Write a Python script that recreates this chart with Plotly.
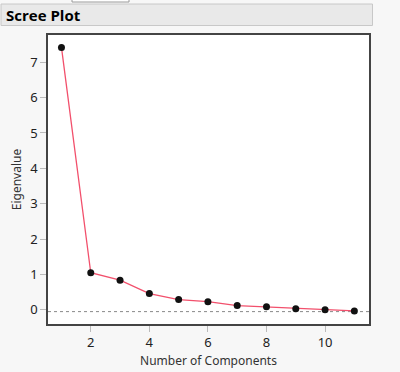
import plotly.graph_objects as go

components = [1, 2, 3, 4, 5, 6, 7, 8, 9, 10, 11]
eigenvalues = [7.42, 1.05, 0.84, 0.46, 0.29, 0.23, 0.12, 0.085, 0.03, 0.0, -0.03]
baseline = -0.05
x_ticks = [2, 4, 6, 8, 10]
y_ticks = [0, 1, 2, 3, 4, 5, 6, 7]

W, H = 400, 372
L, R, T, B = 48, 31, 35, 48
pw, ph = W - L - R, H - T - B

def px(x):
    return (x - L) / pw

def py(y):
    return (H - B - y) / ph

fig = go.Figure()
fig.add_trace(go.Scatter(
    x=components, y=eigenvalues, mode="lines+markers",
    line=dict(color="#f2506c", width=1.3),
    marker=dict(color="#111111", size=7),
    showlegend=False, hoverinfo="skip", cliponaxis=False,
))

fig.add_shape(type="line", xref="paper", yref="y", x0=0, x1=1, y0=baseline, y1=baseline,
              line=dict(color="#888888", width=1, dash="dot"), layer="below")

# title bar
fig.add_shape(type="rect", xref="paper", yref="paper",
              x0=px(1), x1=px(372.5), y0=py(4), y1=py(25.5),
              fillcolor="#e9e9e9", line=dict(color="#c8c8c8", width=1))
fig.add_shape(type="rect", xref="paper", yref="paper",
              x0=px(72), x1=px(129), y0=py(-3), y1=py(2),
              fillcolor="#ffffff", line=dict(color="#9a9a9a", width=1))
fig.add_annotation(text="<b>Scree Plot</b>", xref="paper", yref="paper",
                   x=px(4), y=py(15), xanchor="left", yanchor="middle",
                   showarrow=False, font=dict(family="Open Sans, DejaVu Sans", size=15, color="#000000"))

fig.update_layout(
    width=W, height=H,
    margin=dict(l=L, r=R, t=T, b=B, autoexpand=False),
    paper_bgcolor="#f7f7f7", plot_bgcolor="#ffffff",
    font=dict(family="Noto Sans, Open Sans, DejaVu Sans", size=13, color="#222222"),
    xaxis=dict(range=[0.54, 11.5], tickvals=x_ticks, ticks="outside", ticklen=6, tickcolor="#bbbbbb",
               automargin=False,
               showgrid=False, zeroline=False, showline=True, linecolor="#444444", linewidth=1.5, mirror=True,
               title=dict(text="Number of Components", font=dict(size=12, color="#333333"), standoff=6)),
    yaxis=dict(range=[-0.4, 7.77], tickvals=y_ticks, ticks="outside", ticklen=6, tickcolor="#bbbbbb",
               automargin=False,
               showgrid=False, zeroline=False, showline=True, linecolor="#444444", linewidth=1.5, mirror=True,
               title=dict(text="Eigenvalue", font=dict(size=12, color="#333333"), standoff=6)),
)

fig.write_html("out.html", config={"displayModeBar": False},
               post_script="document.body.style.margin='0';document.body.style.background='#f7f7f7';")
